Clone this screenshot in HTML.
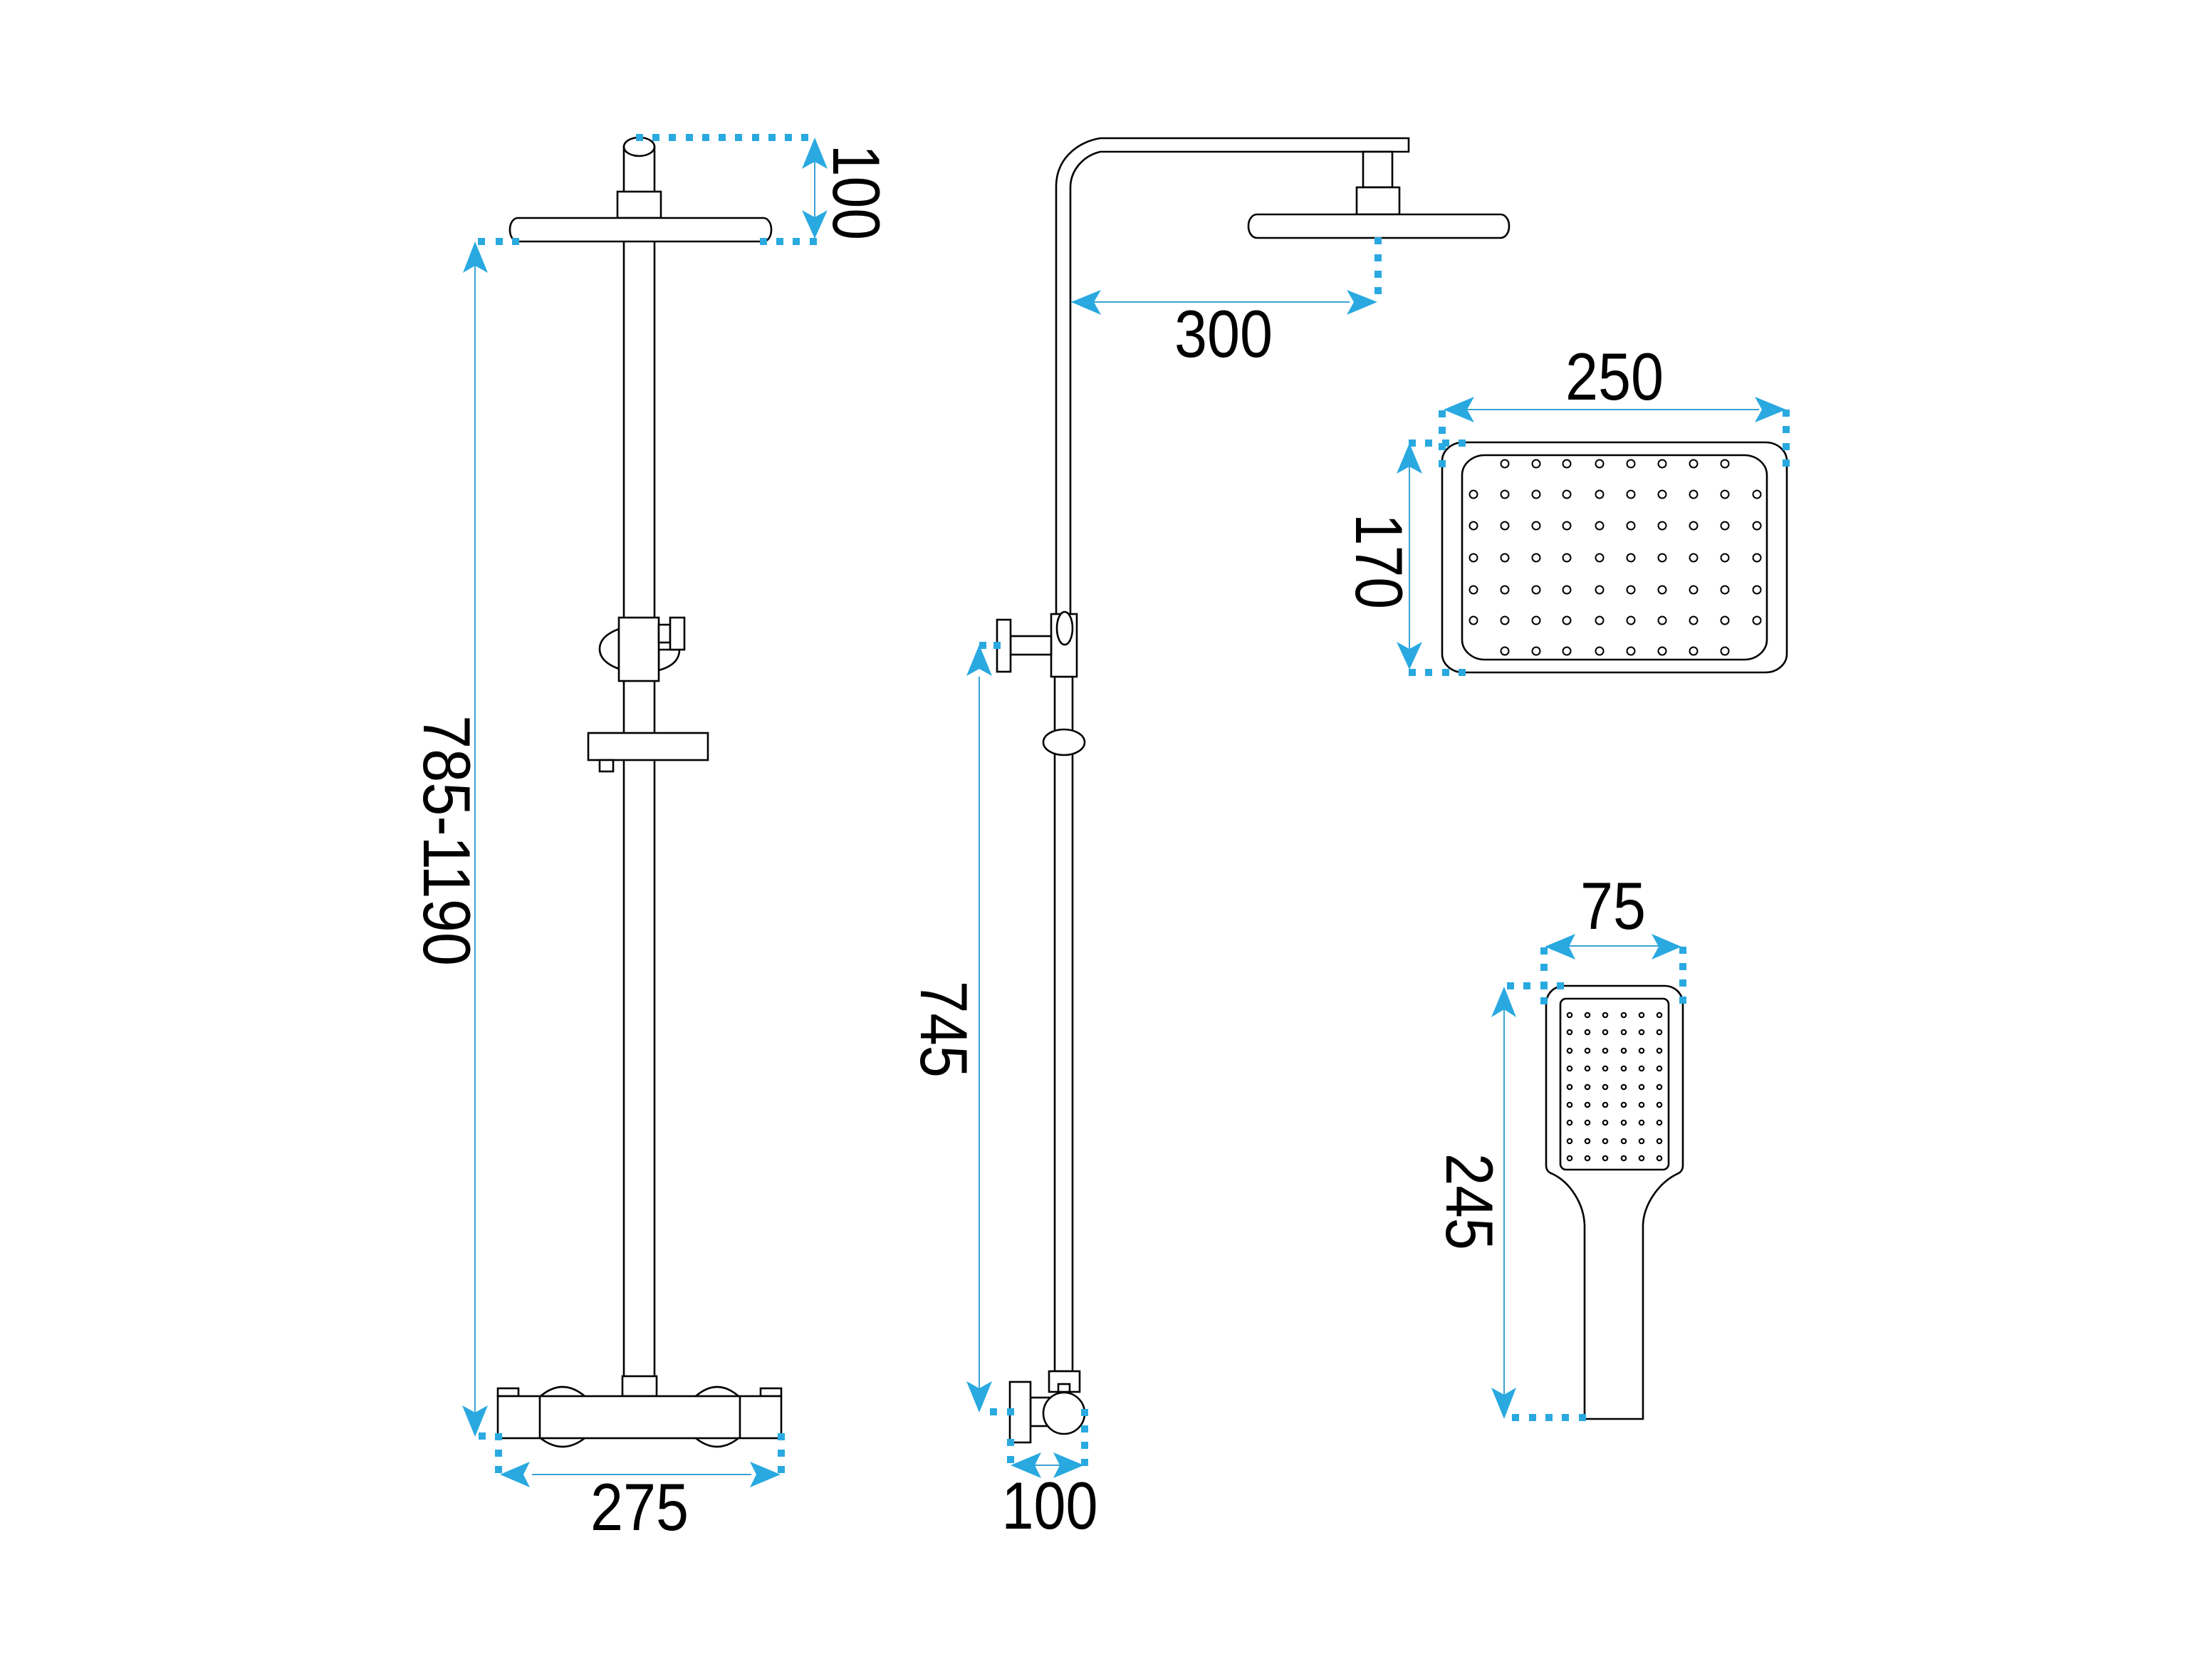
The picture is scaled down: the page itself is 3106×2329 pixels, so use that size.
<!DOCTYPE html>
<html><head><meta charset="utf-8"><style>
html,body{margin:0;padding:0;background:#fff}
svg{display:block}
text{font-family:"Liberation Sans",sans-serif;font-size:94px;fill:#000;text-anchor:middle}
</style></head><body>
<svg width="3106" height="2329" viewBox="0 0 3106 2329" xmlns="http://www.w3.org/2000/svg">
<rect width="3106" height="2329" fill="#fff"/>
<!-- Front view -->
<g fill="#fff" stroke="#000" stroke-width="2.6">
<rect x="876" y="206" width="43" height="1770"/>
<ellipse cx="897.5" cy="206" rx="21.5" ry="13"/>
<rect x="867" y="269" width="61" height="37"/>
<rect x="716" y="306" width="367" height="33" rx="11" ry="16"/>
<path d="M869 883Q842 893 842 911Q842 929 869 939Z"/>
<path d="M925 941Q954 933 954 912L941 912L925 912Z"/>
<rect x="869" y="867" width="56" height="89"/>
<rect x="925" y="877" width="16" height="25"/>
<rect x="941" y="867" width="20" height="45"/>
<rect x="826" y="1029" width="168" height="38"/>
<rect x="842" y="1067" width="19" height="16"/>
<path d="M759 1960Q790 1934 821 1960M977 1960Q1007 1934 1037 1960M759 2019Q790 2043 821 2019M977 2019Q1007 2043 1037 2019"/>
<rect x="699" y="1949" width="29" height="11"/>
<rect x="1068" y="1949" width="29" height="11"/>
<rect x="874" y="1932" width="48" height="28"/>
<rect x="699" y="1960" width="398" height="59"/>
<path d="M758 1960V2019M1039 1960V2019" fill="none"/>
</g>
<!-- Side view -->
<g fill="#fff" stroke="#000" stroke-width="2.6">
<path d="M1481 950V1925H1506V950Z"/>
<path d="M1483 862V262C1483 225 1510 200 1545 194H1978V213H1545C1520 219 1503 240 1503 263V862"/>
<rect x="1914" y="213" width="41" height="50"/>
<rect x="1905" y="263" width="60" height="38"/>
<rect x="1753" y="301" width="366" height="33" rx="12" ry="16"/>
<rect x="1476" y="862" width="36" height="88"/>
<ellipse cx="1495" cy="882" rx="11" ry="23"/>
<rect x="1419" y="893" width="57" height="26"/>
<rect x="1400" y="870" width="19" height="73"/>
<ellipse cx="1494" cy="1042" rx="29" ry="18"/>
<rect x="1473" y="1925" width="43" height="29"/>
<rect x="1486" y="1943" width="16" height="11"/>
<rect x="1447" y="1962" width="30" height="40"/>
<rect x="1418" y="1940" width="29" height="85"/>
<circle cx="1494" cy="1984" r="29"/>
</g>
<!-- Head top view -->
<g fill="#fff" stroke="#000" stroke-width="2.6">
<rect x="2025" y="621" width="484" height="323" rx="30" ry="26"/>
<rect x="2053" y="639" width="428" height="287" rx="32" ry="28"/>
</g>
<g fill="none" stroke="#000" stroke-width="2">
<circle cx="2113" cy="651" r="5.5"/><circle cx="2157" cy="651" r="5.5"/><circle cx="2200" cy="651" r="5.5"/><circle cx="2246" cy="651" r="5.5"/><circle cx="2290" cy="651" r="5.5"/><circle cx="2334" cy="651" r="5.5"/><circle cx="2378" cy="651" r="5.5"/><circle cx="2422" cy="651" r="5.5"/>
<circle cx="2069" cy="694" r="5.5"/><circle cx="2113" cy="694" r="5.5"/><circle cx="2157" cy="694" r="5.5"/><circle cx="2200" cy="694" r="5.5"/><circle cx="2246" cy="694" r="5.5"/><circle cx="2290" cy="694" r="5.5"/><circle cx="2334" cy="694" r="5.5"/><circle cx="2378" cy="694" r="5.5"/><circle cx="2422" cy="694" r="5.5"/><circle cx="2467" cy="694" r="5.5"/>
<circle cx="2069" cy="738" r="5.5"/><circle cx="2113" cy="738" r="5.5"/><circle cx="2157" cy="738" r="5.5"/><circle cx="2200" cy="738" r="5.5"/><circle cx="2246" cy="738" r="5.5"/><circle cx="2290" cy="738" r="5.5"/><circle cx="2334" cy="738" r="5.5"/><circle cx="2378" cy="738" r="5.5"/><circle cx="2422" cy="738" r="5.5"/><circle cx="2467" cy="738" r="5.5"/>
<circle cx="2069" cy="783" r="5.5"/><circle cx="2113" cy="783" r="5.5"/><circle cx="2157" cy="783" r="5.5"/><circle cx="2200" cy="783" r="5.5"/><circle cx="2246" cy="783" r="5.5"/><circle cx="2290" cy="783" r="5.5"/><circle cx="2334" cy="783" r="5.5"/><circle cx="2378" cy="783" r="5.5"/><circle cx="2422" cy="783" r="5.5"/><circle cx="2467" cy="783" r="5.5"/>
<circle cx="2069" cy="828" r="5.5"/><circle cx="2113" cy="828" r="5.5"/><circle cx="2157" cy="828" r="5.5"/><circle cx="2200" cy="828" r="5.5"/><circle cx="2246" cy="828" r="5.5"/><circle cx="2290" cy="828" r="5.5"/><circle cx="2334" cy="828" r="5.5"/><circle cx="2378" cy="828" r="5.5"/><circle cx="2422" cy="828" r="5.5"/><circle cx="2467" cy="828" r="5.5"/>
<circle cx="2069" cy="871" r="5.5"/><circle cx="2113" cy="871" r="5.5"/><circle cx="2157" cy="871" r="5.5"/><circle cx="2200" cy="871" r="5.5"/><circle cx="2246" cy="871" r="5.5"/><circle cx="2290" cy="871" r="5.5"/><circle cx="2334" cy="871" r="5.5"/><circle cx="2378" cy="871" r="5.5"/><circle cx="2422" cy="871" r="5.5"/><circle cx="2467" cy="871" r="5.5"/>
<circle cx="2113" cy="914" r="5.5"/><circle cx="2157" cy="914" r="5.5"/><circle cx="2200" cy="914" r="5.5"/><circle cx="2246" cy="914" r="5.5"/><circle cx="2290" cy="914" r="5.5"/><circle cx="2334" cy="914" r="5.5"/><circle cx="2378" cy="914" r="5.5"/><circle cx="2422" cy="914" r="5.5"/>
</g>
<!-- Hand shower -->
<g fill="#fff" stroke="#000" stroke-width="2.6">
<path d="M2171 1410C2171 1394 2183 1384 2197 1384H2337C2351 1384 2363 1394 2363 1410V1636C2363 1642 2360 1646 2355 1648C2330 1660 2308 1690 2307 1720V1992H2225V1720C2224 1690 2205 1660 2180 1648C2174 1646 2171 1642 2171 1636Z"/>
<rect x="2191" y="1402" width="152" height="240" rx="8"/>
</g>
<g fill="none" stroke="#000" stroke-width="2.2">
<circle cx="2204" cy="1425" r="3.2"/><circle cx="2229" cy="1425" r="3.2"/><circle cx="2254" cy="1425" r="3.2"/><circle cx="2280" cy="1425" r="3.2"/><circle cx="2305" cy="1425" r="3.2"/><circle cx="2330" cy="1425" r="3.2"/>
<circle cx="2204" cy="1449" r="3.2"/><circle cx="2229" cy="1449" r="3.2"/><circle cx="2254" cy="1449" r="3.2"/><circle cx="2280" cy="1449" r="3.2"/><circle cx="2305" cy="1449" r="3.2"/><circle cx="2330" cy="1449" r="3.2"/>
<circle cx="2204" cy="1475" r="3.2"/><circle cx="2229" cy="1475" r="3.2"/><circle cx="2254" cy="1475" r="3.2"/><circle cx="2280" cy="1475" r="3.2"/><circle cx="2305" cy="1475" r="3.2"/><circle cx="2330" cy="1475" r="3.2"/>
<circle cx="2204" cy="1500" r="3.2"/><circle cx="2229" cy="1500" r="3.2"/><circle cx="2254" cy="1500" r="3.2"/><circle cx="2280" cy="1500" r="3.2"/><circle cx="2305" cy="1500" r="3.2"/><circle cx="2330" cy="1500" r="3.2"/>
<circle cx="2204" cy="1526" r="3.2"/><circle cx="2229" cy="1526" r="3.2"/><circle cx="2254" cy="1526" r="3.2"/><circle cx="2280" cy="1526" r="3.2"/><circle cx="2305" cy="1526" r="3.2"/><circle cx="2330" cy="1526" r="3.2"/>
<circle cx="2204" cy="1551" r="3.2"/><circle cx="2229" cy="1551" r="3.2"/><circle cx="2254" cy="1551" r="3.2"/><circle cx="2280" cy="1551" r="3.2"/><circle cx="2305" cy="1551" r="3.2"/><circle cx="2330" cy="1551" r="3.2"/>
<circle cx="2204" cy="1576" r="3.2"/><circle cx="2229" cy="1576" r="3.2"/><circle cx="2254" cy="1576" r="3.2"/><circle cx="2280" cy="1576" r="3.2"/><circle cx="2305" cy="1576" r="3.2"/><circle cx="2330" cy="1576" r="3.2"/>
<circle cx="2204" cy="1602" r="3.2"/><circle cx="2229" cy="1602" r="3.2"/><circle cx="2254" cy="1602" r="3.2"/><circle cx="2280" cy="1602" r="3.2"/><circle cx="2305" cy="1602" r="3.2"/><circle cx="2330" cy="1602" r="3.2"/>
<circle cx="2204" cy="1626" r="3.2"/><circle cx="2229" cy="1626" r="3.2"/><circle cx="2254" cy="1626" r="3.2"/><circle cx="2280" cy="1626" r="3.2"/><circle cx="2305" cy="1626" r="3.2"/><circle cx="2330" cy="1626" r="3.2"/>
</g>
<!-- Dimension lines -->
<g stroke="#3ba3d3" stroke-width="2" fill="none">
<path d="M1144 225V305M667 373V1983M747 2070H1055M1504 424H1895M2060 575H2470M1979 655V911M2203 1328H2329M2112 1417V1958M1375 950V1950M1453 2057H1488"/>
</g>
<!-- Arrowheads -->
<g fill="#29a9e0">
<polygon points="1144,193 1162,237 1144,227 1126,237"/>
<polygon points="1144,335 1162,295 1144,305 1126,295"/>
<polygon points="667,339 685,383 667,373 650,383"/>
<polygon points="667,2017 685,1973 667,1983 649,1973"/>
<polygon points="702,2070 744,2052 735,2070 744,2088"/>
<polygon points="1096,2070 1053,2052 1062,2070 1053,2088"/>
<polygon points="1504,424 1546,407 1536,424 1546,442"/>
<polygon points="1934,424 1891,407 1901,424 1891,442"/>
<polygon points="2027,575 2070,557 2060,575 2070,593"/>
<polygon points="2508,575 2464,557 2474,575 2464,593"/>
<polygon points="1979,622 1997,665 1979,655 1961,665"/>
<polygon points="1979,940 1997,901 1979,911 1961,901"/>
<polygon points="2169,1329 2212,1311 2203,1329 2212,1347"/>
<polygon points="2361,1329 2319,1311 2329,1329 2319,1347"/>
<polygon points="2112,1385 2129,1428 2112,1417 2094,1428"/>
<polygon points="2112,1992 2129,1948 2112,1958 2094,1948"/>
<polygon points="1375,905 1393,949 1375,939 1357,949"/>
<polygon points="1375,1983 1393,1939 1375,1949 1357,1939"/>
<polygon points="1419,2057 1462,2039 1453,2057 1462,2075"/>
<polygon points="1522,2057 1479,2039 1488,2057 1479,2075"/>
<!-- Dots -->
<path d="M893 188h10v10h-10zM916 188h10v10h-10zM939 188h10v10h-10zM963 188h10v10h-10zM986 188h10v10h-10zM1009 188h10v10h-10zM1032 188h10v10h-10zM1056 188h10v10h-10zM1079 188h10v10h-10zM1102 188h10v10h-10zM1125 188h10v10h-10z"/>
<path d="M671 334h10v10h-10zM696 334h10v10h-10zM719 334h10v10h-10zM1067 334h10v10h-10zM1090 334h10v10h-10zM1113 334h10v10h-10zM1137 334h10v10h-10z"/>
<path d="M672 2011h10v10h-10zM695 2012h10v10h-10zM695 2035h10v10h-10zM695 2058h10v10h-10zM1092 2012h10v10h-10zM1092 2035h10v10h-10zM1092 2058h10v10h-10z"/>
<path d="M1930 333h10v10h-10zM1930 357h10v10h-10zM1930 380h10v10h-10zM1930 403h10v10h-10z"/>
<path d="M1375 901h10v10h-10zM1395 901h10v10h-10zM1390 1977h10v10h-10zM1414 1977h10v10h-10zM1414 2020h10v10h-10zM1414 2044h10v10h-10zM1518 1978h10v10h-10zM1518 2001h10v10h-10zM1518 2024h10v10h-10zM1518 2048h10v10h-10z"/>
<path d="M2020 576h10v10h-10zM2020 599h10v10h-10zM2020 622h10v10h-10zM2020 646h10v10h-10zM2503 575h10v10h-10zM2503 598h10v10h-10zM2503 622h10v10h-10zM2503 645h10v10h-10z"/>
<path d="M1978 617h10v10h-10zM2001 617h10v10h-10zM2025 617h10v10h-10zM2048 617h10v10h-10zM1978 939h10v10h-10zM2001 939h10v10h-10zM2025 939h10v10h-10zM2048 939h10v10h-10z"/>
<path d="M2163 1330h10v10h-10zM2163 1353h10v10h-10zM2163 1378h10v10h-10zM2163 1400h10v10h-10zM2358 1329h10v10h-10zM2358 1352h10v10h-10zM2358 1375h10v10h-10zM2358 1399h10v10h-10z"/>
<path d="M2116 1379h10v10h-10zM2139 1379h10v10h-10zM2163 1379h10v10h-10zM2186 1379h10v10h-10z"/>
<path d="M2123 1985h10v10h-10zM2147 1985h10v10h-10zM2170 1985h10v10h-10zM2193 1985h10v10h-10zM2217 1985h10v10h-10z"/>
</g>
<!-- Labels -->
<text x="898" y="2148" textLength="138" lengthAdjust="spacingAndGlyphs">275</text>
<text x="1474" y="2146" textLength="135" lengthAdjust="spacingAndGlyphs">100</text>
<text x="1718" y="501" textLength="138" lengthAdjust="spacingAndGlyphs">300</text>
<text x="2267" y="561" textLength="138" lengthAdjust="spacingAndGlyphs">250</text>
<text x="2265" y="1304" textLength="92" lengthAdjust="spacingAndGlyphs">75</text>
<text transform="translate(1170 270) rotate(90)" textLength="134" lengthAdjust="spacingAndGlyphs">100</text>
<text transform="translate(595 1180) rotate(90)" textLength="352" lengthAdjust="spacingAndGlyphs">785-1190</text>
<text transform="translate(1293 1445) rotate(90)" textLength="136" lengthAdjust="spacingAndGlyphs">745</text>
<text transform="translate(1904 788) rotate(90)" textLength="134" lengthAdjust="spacingAndGlyphs">170</text>
<text transform="translate(2031 1687) rotate(90)" textLength="136" lengthAdjust="spacingAndGlyphs">245</text>
</svg>
</body></html>
